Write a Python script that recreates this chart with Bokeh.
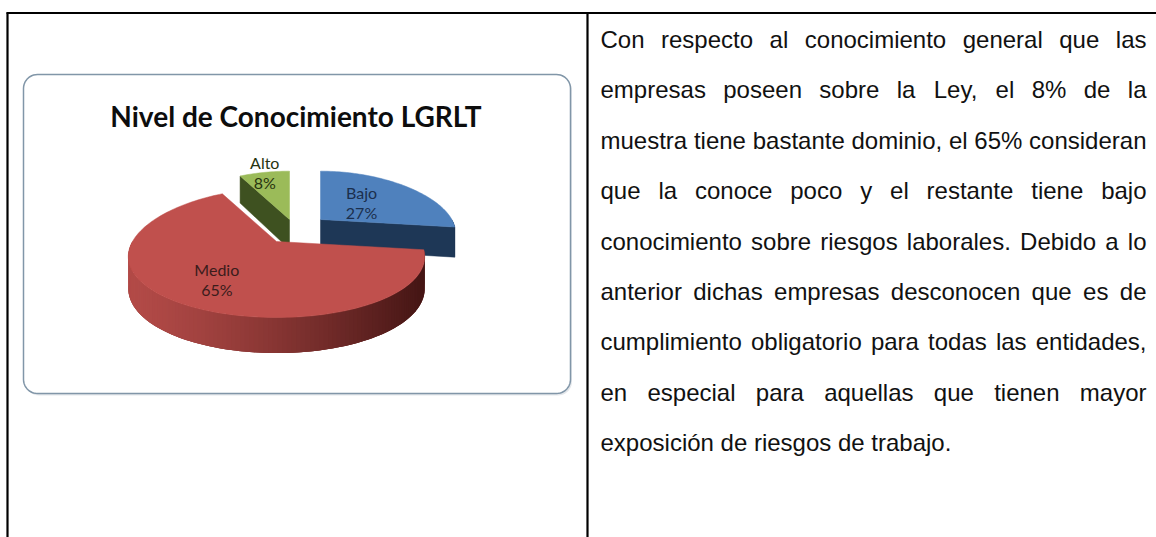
import numpy as np
from bokeh.plotting import figure
from bokeh.models import Range1d
from bokeh.core.properties import value
from bokeh.embed import file_html
from bokeh.resources import INLINE

# ---------------- data ----------------
categories = ["Bajo", "Medio", "Alto"]
percentages = [27, 65, 8]
chart_title = "Nivel de Conocimiento LGRLT"

paragraph_lines = [
    "Con respecto al conocimiento general que las",
    "empresas poseen sobre la Ley, el 8% de la",
    "muestra tiene bastante dominio, el 65% consideran",
    "que la conoce poco y el restante tiene bajo",
    "conocimiento sobre riesgos laborales. Debido a lo",
    "anterior dichas empresas desconocen que es de",
    "cumplimiento obligatorio para todas las entidades,",
    "en especial para aquellas que tienen mayor",
    "exposición de riesgos de trabajo.",
]

# ---------------- style ----------------
top_colors = ["#4f81bd", "#c0504d", "#9bbb59"]
cut_colors = ["#1e3756", "#7a2b29", "#3e5120"]
label_colors = ["#1b2f4d", "#3a1c1c", "#27330f"]
wall_light = ["#2a4a72", "#b24a47", "#5a7030"]
wall_dark = ["#182c47", "#461615", "#34441a"]
explode_px = [(44, -22), (0, 0), (13, -22)]
label_r = [0.45, 0.65, 1.0]

BODY_FONT = "Liberation Sans"
BODY_SIZE = 24
LABEL_FONT = "Lato"
TITLE_FONT = "Lato"

CX, CY = 276.0, 241.0
RX, RY1, RY2 = 144.0, 64.5, 11.5
PERSP = 0.25

W, H = 1156, 537


def scale_of(off):
    return 1 + 0.004 * off[1]


def proj(theta_deg, r, off):
    t = np.radians(theta_deg)
    u = r * np.cos(t)
    v = r * np.sin(t)
    s = scale_of(off)
    x = CX + off[0] + u * RX * s * (1 - PERSP * v)
    y = CY + off[1] + (-v * RY1 + v * v * RY2) * s
    return x, y


def depth_at(y):
    return 31 + 0.06 * (y - CY)


def mix(c1, c2, t):
    a = [int(c1[i:i + 2], 16) for i in (1, 3, 5)]
    b = [int(c2[i:i + 2], 16) for i in (1, 3, 5)]
    return "#%02x%02x%02x" % tuple(int(round(a[k] + (b[k] - a[k]) * t)) for k in range(3))


p = figure(width=W, height=H, x_range=Range1d(0, W), y_range=Range1d(H, 0),
           output_backend="svg", toolbar_location=None, min_border=0,
           x_axis_type=None, y_axis_type=None)
p.grid.visible = False
p.outline_line_color = None
p.background_fill_color = "white"
p.border_fill_color = "white"

# ---------------- table lines ----------------
p.segment(x0=[6, 7, 587], y0=[12.5, 12, 12], x1=[W, 7, 587], y1=[12.5, H, H],
          line_color="black", line_width=2.2)

# ---------------- chart frame (rounded box) ----------------
bx0, by0, bx1, by1, rad = 23.0, 74.0, 570.0, 393.0, 14.0


def rounded(x0, y0, x1, y1, r):
    xs, ys = [], []
    for (cx_, cy_, a0) in [(x1 - r, y0 + r, -90), (x1 - r, y1 - r, 0), (x0 + r, y1 - r, 90), (x0 + r, y0 + r, 180)]:
        ang = np.radians(np.linspace(a0, a0 + 90, 12))
        xs += list(cx_ + r * np.cos(ang))
        ys += list(cy_ + r * np.sin(ang))
    return xs, ys


sx, sy = rounded(bx0 + 1.5, by0 + 2, bx1 + 1.5, by1 + 2, rad)
p.patch(sx, sy, fill_color="#d9dde2", line_color=None, fill_alpha=0.7)
fx, fy = rounded(bx0, by0, bx1, by1, rad)
p.patch(fx, fy, fill_color="white", line_color="#8196a8", line_width=1.5)

# ---------------- title ----------------
p.text(x=[(bx0 + bx1) / 2 - 1], y=[115], text=[chart_title], text_font=value(TITLE_FONT),
       text_font_style="bold", text_font_size="28px", text_color="#0d0d0d",
       text_align="center", text_baseline="alphabetic")

# ---------------- 3D pie ----------------
slices = []
start = 90.0
for i, pct in enumerate(percentages):
    sweep = pct / 100.0 * 360.0
    slices.append((i, start, start - sweep))
    start -= sweep

order = sorted(range(len(slices)), key=lambda k: (explode_px[k][1], k))

for k in order:
    i, a1, a2 = slices[k]
    off = explode_px[i]
    n = max(int(abs(a1 - a2) / 1.5), 4)
    angs = np.linspace(a1, a2, n + 1)
    ax, ay = proj(0, 0, off)
    xmin, xmax = CX - RX, CX + RX

    # outer wall (front part only): base band + shaded strips
    vis = [j for j in range(n) if np.sin(np.radians(0.5 * (angs[j] + angs[j + 1]))) < 0]
    if vis:
        top_pts = [proj(angs[j], 1, off) for j in vis] + [proj(angs[vis[-1] + 1], 1, off)]
        bx_ = [q[0] for q in top_pts] + [q[0] for q in reversed(top_pts)]
        by_ = [q[1] for q in top_pts] + [q[1] + depth_at(q[1]) for q in reversed(top_pts)]
        p.patch(bx_, by_, fill_color=mix(wall_light[i], wall_dark[i], 0.5), line_color=None)
        wxs, wys, wcs = [], [], []
        for j in vis:
            x0_, y0_ = proj(angs[j], 1, off)
            x1_, y1_ = proj(angs[min(j + 1, n)], 1, off)
            x2_, y2_ = proj(angs[min(j + 2, n)], 1, off)
            t = np.clip(((x0_ + x1_) / 2 - xmin) / (xmax - xmin), 0, 1) ** 1.3
            c = mix(wall_light[i], wall_dark[i], t)
            wxs.append([x0_, x2_, x2_, x0_])
            wys.append([y0_, y2_, y2_ + depth_at(y2_), y0_ + depth_at(y0_)])
            wcs.append(c)
        p.patches(xs=wxs, ys=wys, fill_color=wcs, line_color=None)

    # radial cut faces
    cxs, cys, ccs = [], [], []
    for a_edge, nrm in ((a1, a1 + 90), (a2, a2 - 90)):
        if np.sin(np.radians(nrm)) < -0.05:
            rx_, ry_ = proj(a_edge, 1, off)
            cxs.append([ax, rx_, rx_, ax])
            cys.append([ay, ry_, ry_ + depth_at(ry_), ay + depth_at(ay)])
            ccs.append(cut_colors[i])
    if cxs:
        p.patches(xs=cxs, ys=cys, fill_color=ccs, line_color=ccs, line_width=0.5)

    # top face
    px_ = [ax] + [proj(a, 1, off)[0] for a in angs]
    py_ = [ay] + [proj(a, 1, off)[1] for a in angs]
    p.patch(px_, py_, fill_color=top_colors[i], line_color=top_colors[i], line_width=0.5)

# ---------------- pie labels ----------------
lab_x, lab_y, lab_t, lab_c = [], [], [], []
for (i, a1, a2) in slices:
    mid = 0.5 * (a1 + a2)
    lx, ly = proj(mid, label_r[i], explode_px[i])
    lab_x += [lx, lx]
    lab_y += [ly - 10, ly + 10]
    lab_t += [categories[i], "%d%%" % percentages[i]]
    lab_c += [label_colors[i], label_colors[i]]
p.text(x=lab_x, y=lab_y, text=lab_t, text_color=lab_c, text_font=value(LABEL_FONT),
       text_font_size="16px", text_align="center", text_baseline="middle")

# ---------------- justified paragraph ----------------
AW = {'a': 556, 'b': 556, 'c': 500, 'd': 556, 'e': 556, 'f': 278, 'g': 556, 'h': 556, 'i': 222,
      'j': 222, 'k': 500, 'l': 222, 'm': 833, 'n': 556, 'o': 556, 'p': 556, 'q': 556, 'r': 333,
      's': 500, 't': 278, 'u': 556, 'v': 500, 'w': 722, 'x': 500, 'y': 500, 'z': 500,
      'C': 722, 'D': 722, 'L': 556, ' ': 278, ',': 278, '.': 278, '%': 889, 'ó': 556}


def text_w(s):
    return sum(AW.get(ch, 556) for ch in s) / 1000.0 * BODY_SIZE


LEFT, RIGHT = 600.0, 1146.0
BASE0, LEAD = 39.0, 50.4
L = dict(x=[], y=[], t=[])
C = dict(x=[], y=[], t=[])
R = dict(x=[], y=[], t=[])
for li, line in enumerate(paragraph_lines):
    y = BASE0 + li * LEAD
    if li == len(paragraph_lines) - 1:
        L["x"].append(LEFT); L["y"].append(y); L["t"].append(line)
        continue
    words = line.split()
    ws = [text_w(w) for w in words]
    gap = (RIGHT - LEFT - sum(ws)) / (len(words) - 1)
    x = LEFT
    for j, (w, ww) in enumerate(zip(words, ws)):
        if j == 0:
            L["x"].append(LEFT); L["y"].append(y); L["t"].append(w)
        elif j == len(words) - 1:
            R["x"].append(RIGHT); R["y"].append(y); R["t"].append(w)
        else:
            C["x"].append(x + ww / 2); C["y"].append(y); C["t"].append(w)
        x += ww + gap

for d, al in ((L, "left"), (C, "center"), (R, "right")):
    p.text(x=d["x"], y=d["y"], text=d["t"], text_font=value(BODY_FONT), text_font_size="%dpx" % BODY_SIZE,
           text_color="#111111", text_align=al, text_baseline="alphabetic")

open("out.html", "w").write(file_html(p, INLINE))
